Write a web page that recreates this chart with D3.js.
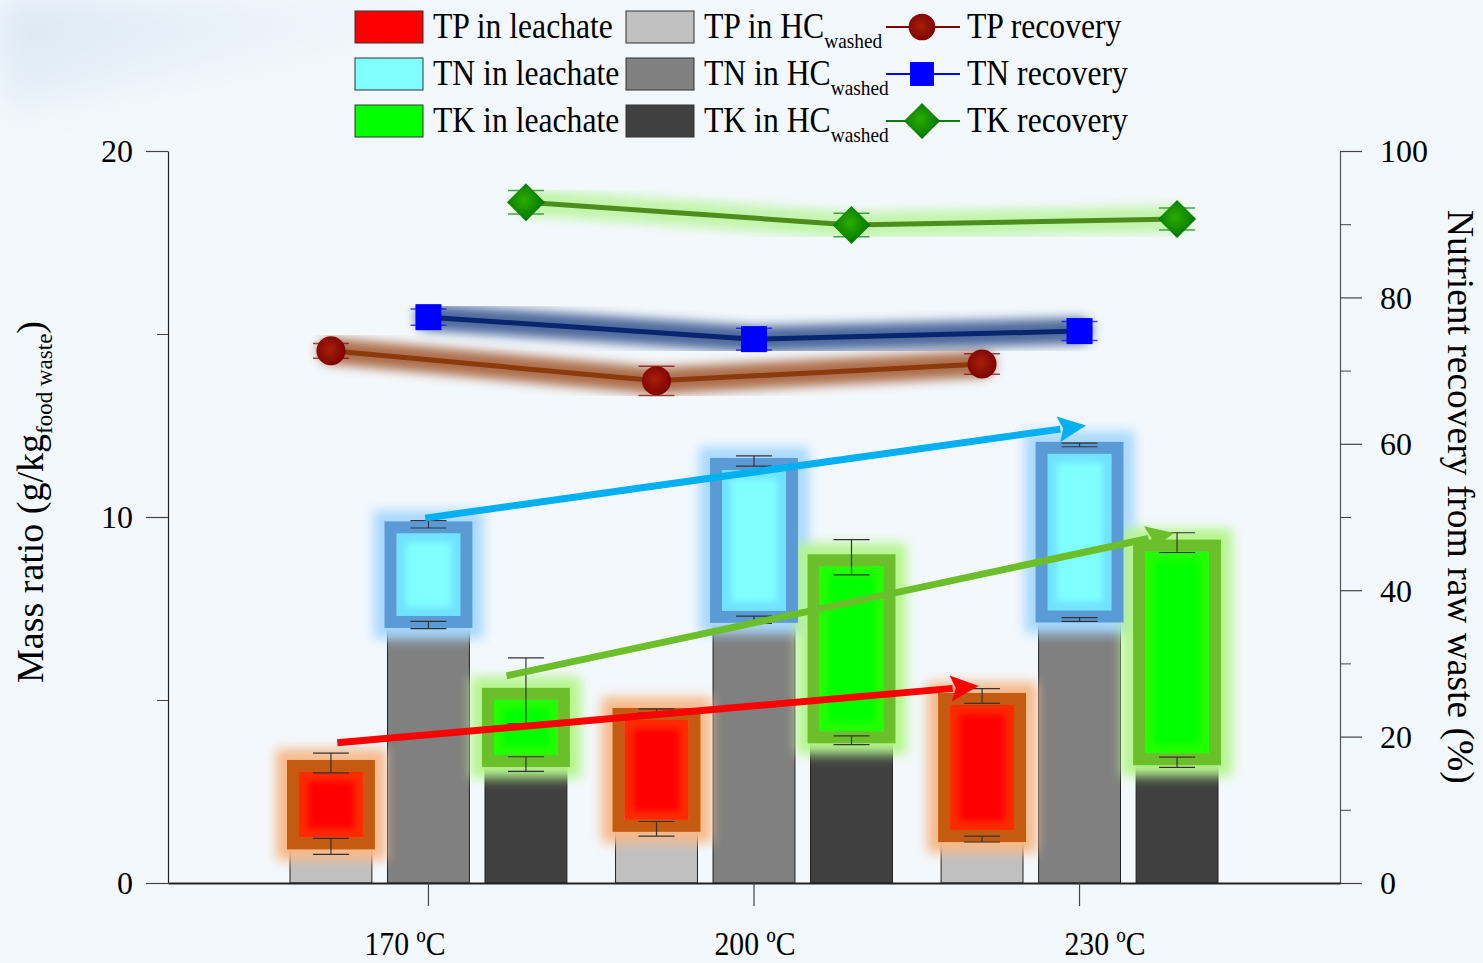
<!DOCTYPE html>
<html><head><meta charset="utf-8">
<script src="https://cdn.jsdelivr.net/npm/d3@7/dist/d3.min.js"></script>
<style>
body{margin:0;background:#f3f8fd}
svg{display:block}
text{font-family:"Liberation Serif","Times New Roman",serif;fill:#000}
</style>
</head><body>
<svg id="c" width="1483" height="963"></svg>
<script>
// ---------------- DATA ----------------
const categories = ["170 ºC", "200 ºC", "230 ºC"];
const nutrients = ["TP", "TN", "TK"];
// g/kg food waste : retained in washed hydrochar
const hcTP = [1.0, 1.48, 1.2];   const hcTPErr = [0.22, 0.2, 0.08];
const hcTN = [7.05, 7.19, 7.2];  const hcTNErr = [0.1, 0.1, 0.05];
const hcTK = [3.25, 3.9, 3.3];   const hcTKErr = [0.2, 0.12, 0.14];
// g/kg food waste : in leachate (stacked on top)
const leachTP = [2.28, 3.22, 3.91]; const totTPErr = [0.27, 0.06, 0.2];
const leachTN = [2.75, 4.34, 4.77]; const totTNErr = [0.1, 0.14, 0.05];
const leachTK = [2.0, 5.0, 6.0];    const totTKErr = [0.9, 0.48, 0.27];
// recovery (%)
const recTP = [72.7, 68.6, 70.9]; const recTPErr = [1.0, 2.0, 1.4];
const recTN = [77.3, 74.3, 75.4]; const recTNErr = [1.1, 1.5, 1.3];
const recTK = [93.0, 89.9, 90.7]; const recTKErr = [1.6, 1.6, 1.5];
// axes
const leftTicks = [0, 10, 20];  const leftMinor = [5, 15];
const rightTicks = [0, 20, 40, 60, 80, 100]; const rightMinor = [10, 30, 50, 70, 90];
// trend arrows (annotation): x in category-index units, y in g/kg
const arrowTP = {x: [-0.28, 1.69], y: [3.83, 5.38]};
const arrowTN = {x: [-0.01, 2.02], y: [9.97, 12.5]};
const arrowTK = {x: [0.24, 2.29],  y: [5.66, 9.56]};
// legend labels
const legLeach = ["TP in leachate", "TN in leachate", "TK in leachate"];
const legHC = ["TP in HC", "TN in HC", "TK in HC"];
const legRec = ["TP recovery", "TN recovery", "TK recovery"];

// ---------------- STYLE ----------------
const st = {
  TP: {hc:"#c0c0c0", core:"#ff0000", edge:"#ff2a00", box:"#c55a11", glow:"#f6b98a",
       mark:"#800000", line:"#8b3a0c", lglow:"#a0552c", arrow:"#ff0000"},
  TN: {hc:"#808080", core:"#80ffff", edge:"#70e2ff", box:"#5b9bd5", glow:"#a8d8ff",
       mark:"#0000ff", line:"#0a2570", lglow:"#2f4f8a", arrow:"#00b0f0"},
  TK: {hc:"#404040", core:"#00ff00", edge:"#22ff00", box:"#6abf2a", glow:"#b4f58c",
       mark:"#008000", line:"#4f8c1e", lglow:"#b7f59b", arrow:"#6abf2a"}
};
const HC = {TP:hcTP, TN:hcTN, TK:hcTK}, HCE = {TP:hcTPErr, TN:hcTNErr, TK:hcTKErr};
const LE = {TP:leachTP, TN:leachTN, TK:leachTK}, TE = {TP:totTPErr, TN:totTNErr, TK:totTKErr};
const REC = {TP:recTP, TN:recTN, TK:recTK}, RECE = {TP:recTPErr, TN:recTNErr, TK:recTKErr};
const ARR = {TP:arrowTP, TN:arrowTN, TK:arrowTK};

const L = 168, R = 1340, T = 151, B = 883;
const svg = d3.select("#c");
const defs = svg.append("defs");
function blur(id, sd){
  defs.append("filter").attr("id", id).attr("x","-50%").attr("y","-50%")
    .attr("width","200%").attr("height","200%")
    .append("feGaussianBlur").attr("stdDeviation", sd);
}
blur("b3", 3); blur("b6", 6); blur("b4", 5.5); blur("bg", 18);
function radial(id, c0, c1){
  const g = defs.append("radialGradient").attr("id", id).attr("cx","45%").attr("cy","45%").attr("r","60%");
  g.append("stop").attr("offset","0%").attr("stop-color", c0);
  g.append("stop").attr("offset","100%").attr("stop-color", c1);
}
radial("gTP", "#a8200a", "#7a0000");
radial("gTK", "#2aae00", "#006e00");
const lg = defs.append("linearGradient").attr("id","swoosh").attr("x1","0").attr("y1","0").attr("x2","1").attr("y2","0.4");
lg.append("stop").attr("offset","0").attr("stop-color","#d6e4f0");
lg.append("stop").attr("offset","1").attr("stop-color","#f3f8fd").attr("stop-opacity","0");

// background
svg.append("rect").attr("width",1483).attr("height",963).attr("fill","#f3f8fd");
svg.append("path").attr("d","M0,0 L600,0 C440,45 220,75 0,115 Z").attr("fill","url(#swoosh)").attr("filter","url(#bg)");

// ---------------- SCALES ----------------
const y = d3.scaleLinear().domain([0, 20]).range([B, T]);
const yR = d3.scaleLinear().domain([0, 100]).range([B, T]);
const x = d3.scaleBand().domain(categories).range([L, R]).paddingOuter(0.3).paddingInner(0);
const xs = d3.scaleBand().domain(nutrients).range([-146.25, 146.25]).paddingInner(0.16).paddingOuter(0.08);
const cx = c => x(c) + x.bandwidth() / 2;
const xi = d3.scaleLinear().domain([0, 2]).range([cx(categories[0]), cx(categories[2])]);
const xl = d3.scalePoint().domain(categories).range([405, 1105]);
const bw = xs.bandwidth();

const rows = [];
categories.forEach((c, i) => nutrients.forEach(n => {
  rows.push({c, i, n, hc: HC[n][i], hcE: HCE[n][i], le: LE[n][i], tot: HC[n][i] + LE[n][i],
             totE: TE[n][i], rec: REC[n][i], recE: RECE[n][i],
             bx: cx(c) + xs(n), mx: cx(c) + xs(n) + bw / 2});
}));

// ---------------- BARS ----------------
const gBars = svg.append("g");
gBars.selectAll(".hc").data(rows).join("rect")
  .attr("x", d => d.bx).attr("width", bw)
  .attr("y", d => y(d.hc)).attr("height", d => y(0) - y(d.hc))
  .attr("fill", d => st[d.n].hc).attr("stroke", "#222").attr("stroke-width", 1);
gBars.selectAll(".le").data(rows).join("rect")
  .attr("x", d => d.bx).attr("width", bw)
  .attr("y", d => y(d.tot)).attr("height", d => y(d.hc) - y(d.tot))
  .attr("fill", d => st[d.n].core).attr("stroke", "#222").attr("stroke-width", 1);

// highlight boxes around leachate segments
const e = 3;
const hl = svg.append("g");
const ob = d => ({x0: d.bx - e, x1: d.bx + bw + e, y0: y(d.tot) - e, y1: y(d.hc) + e});
hl.selectAll(".glow").data(rows).join("rect")
  .each(function(d){ const o = ob(d); d3.select(this).attr("x", o.x0).attr("y", o.y0).attr("width", o.x1 - o.x0).attr("height", o.y1 - o.y0); })
  .attr("fill", "none").attr("stroke", d => st[d.n].glow).attr("stroke-width", 22).attr("filter", "url(#b6)");
hl.selectAll(".edge").data(rows).join("rect")
  .each(function(d){ const o = ob(d); d3.select(this).attr("x", o.x0 + 12).attr("y", o.y0 + 12).attr("width", o.x1 - o.x0 - 24).attr("height", Math.max(0, o.y1 - o.y0 - 24)); })
  .attr("fill", d => st[d.n].edge);
hl.selectAll(".core").data(rows).join("rect")
  .each(function(d){ const o = ob(d); d3.select(this).attr("x", o.x0 + 21).attr("y", o.y0 + 21).attr("width", o.x1 - o.x0 - 42).attr("height", Math.max(0, o.y1 - o.y0 - 42)); })
  .attr("fill", d => st[d.n].core).attr("filter", "url(#b3)");
hl.selectAll(".box").data(rows).join("rect")
  .each(function(d){ const o = ob(d); d3.select(this).attr("x", o.x0 + 6).attr("y", o.y0 + 6).attr("width", o.x1 - o.x0 - 12).attr("height", o.y1 - o.y0 - 12); })
  .attr("fill", "none").attr("stroke", d => st[d.n].box).attr("stroke-width", 12);

// bar error bars
const eb = svg.append("g").attr("stroke", "#333").attr("stroke-width", 1.2).attr("fill", "none");
function errBar(g, xc, yv, ev, sc, w){
  g.append("line").attr("x1", xc).attr("x2", xc).attr("y1", sc(yv - ev)).attr("y2", sc(yv + ev));
  g.append("line").attr("x1", xc - w/2).attr("x2", xc + w/2).attr("y1", sc(yv - ev)).attr("y2", sc(yv - ev));
  g.append("line").attr("x1", xc - w/2).attr("x2", xc + w/2).attr("y1", sc(yv + ev)).attr("y2", sc(yv + ev));
}
rows.forEach(d => { errBar(eb, d.mx, d.hc, d.hcE, y, 36); errBar(eb, d.mx, d.tot, d.totE, y, 36); });

// ---------------- AXES ----------------
const axL = svg.append("g").attr("transform", `translate(${L},0)`)
  .call(d3.axisLeft(y).tickValues(leftTicks).tickSize(22).tickSizeOuter(0).tickPadding(13).tickFormat(d3.format("d")));
svg.append("g").attr("transform", `translate(${L},0)`)
  .call(d3.axisLeft(y).tickValues(leftMinor).tickSize(11).tickSizeOuter(0).tickFormat(""))
  .select(".domain").remove();
const axR = svg.append("g").attr("transform", `translate(${R},0)`)
  .call(d3.axisRight(yR).tickValues(rightTicks).tickSize(22).tickSizeOuter(0).tickPadding(18).tickFormat(d3.format("d")));
svg.append("g").attr("transform", `translate(${R},0)`)
  .call(d3.axisRight(yR).tickValues(rightMinor).tickSize(11).tickSizeOuter(0).tickFormat(""))
  .select(".domain").remove();
const axB = svg.append("g").attr("transform", `translate(0,${B})`)
  .call(d3.axisBottom(x).tickSize(23).tickSizeOuter(0).tickFormat(""));
[axL, axR].forEach(a => a.selectAll("text").attr("font-size", 32).attr("font-family", '"Liberation Serif",serif').attr("fill", "#000"));
axL.selectAll(".tick text").attr("dy", "0.34em");
axR.selectAll(".tick text").attr("dy", "0.34em");
axL.selectAll("path,line").attr("stroke", "#222").attr("stroke-width", 1.2);
axR.selectAll("path,line").attr("stroke", "#555").attr("stroke-width", 1.2);
svg.selectAll(".tick line").attr("stroke", "#444");
axB.select(".domain").attr("stroke", "#222").attr("stroke-width", 2);
axB.selectAll(".tick line").attr("stroke", "#444").attr("stroke-width", 1.2);

// category labels
svg.append("g").selectAll("text").data(categories).join("text")
  .attr("transform", d => `translate(${xl(d)},955) scale(0.9,1)`)
  .attr("text-anchor", "middle").attr("font-size", 33).text(d => d);

// axis titles
const tl = svg.append("text").attr("transform", "translate(43,683) rotate(-90)").attr("font-size", 38);
tl.append("tspan").text("Mass ratio (g/kg");
tl.append("tspan").attr("font-size", 23).attr("dy", 9).text("food waste");
tl.append("tspan").attr("dy", -9).text(")");
svg.append("text").attr("transform", "translate(1448,210) rotate(90)").attr("font-size", 37.5)
  .text("Nutrient recovery from raw waste (%)");

// ---------------- TREND ARROWS ----------------
const ga = svg.append("g");
nutrients.forEach(n => {
  const a = ARR[n];
  const x0 = xi(a.x[0]), y0 = y(a.y[0]), x1 = xi(a.x[1]), y1 = y(a.y[1]);
  const dx = x1 - x0, dy = y1 - y0, len = Math.hypot(dx, dy), ux = dx / len, uy = dy / len;
  const hlen = 28, hw = 13;
  const bxp = x1 - ux * hlen, byp = y1 - uy * hlen;
  ga.append("line").attr("x1", x0).attr("y1", y0).attr("x2", bxp + ux * 2).attr("y2", byp + uy * 2)
    .attr("stroke", st[n].arrow).attr("stroke-width", 7);
  ga.append("path").attr("d", `M${x1},${y1} L${bxp - uy * hw},${byp + ux * hw} L${bxp + ux * 5},${byp + uy * 5} L${bxp + uy * hw},${byp - ux * hw} Z`)
    .attr("fill", st[n].arrow);
});

// ---------------- RECOVERY LINES ----------------
const gr = svg.append("g");
const line = d3.line().x(d => d.mx).y(d => yR(d.rec));
nutrients.forEach(n => {
  const pts = rows.filter(d => d.n === n);
  gr.append("path").attr("d", line(pts)).attr("fill", "none").attr("stroke", st[n].lglow)
    .attr("stroke-width", 26).attr("stroke-linecap", "round").attr("opacity", 0.85).attr("filter", "url(#b4)");
});
nutrients.forEach(n => {
  const pts = rows.filter(d => d.n === n);
  gr.append("path").attr("d", line(pts)).attr("fill", "none").attr("stroke", st[n].line).attr("stroke-width", 5);
});
nutrients.forEach(n => {
  const g = gr.append("g").attr("stroke", st[n].mark).attr("stroke-width", 1.5).attr("opacity", 0.7);
  rows.filter(d => d.n === n).forEach(d => errBar(g, d.mx, d.rec, d.recE, yR, 36));
});
function marker(g, n, px, py, s){
  if (n === "TP") g.append("circle").attr("cx", px).attr("cy", py).attr("r", 14.5 * s).attr("fill", "url(#gTP)");
  else if (n === "TN") g.append("rect").attr("x", px - 13 * s).attr("y", py - 13 * s).attr("width", 26 * s).attr("height", 26 * s).attr("fill", "#0000ff");
  else g.append("path").attr("d", `M${px},${py - 19 * s} L${px + 19 * s},${py} L${px},${py + 19 * s} L${px - 19 * s},${py} Z`).attr("fill", "url(#gTK)");
}
rows.forEach(d => marker(gr, d.n, d.mx, yR(d.rec), 1));

// ---------------- LEGEND ----------------
const leg = svg.append("g");
nutrients.forEach((n, i) => {
  const cy = 27 + i * 47;
  leg.append("rect").attr("x", 355).attr("y", cy - 16).attr("width", 68).attr("height", 32)
    .attr("fill", st[n].core).attr("stroke", "#333").attr("stroke-width", 1);
  leg.append("text").attr("transform", `translate(433,${cy + 11}) scale(0.88,1)`).attr("font-size", 36).text(legLeach[i]);
  leg.append("rect").attr("x", 626).attr("y", cy - 16).attr("width", 68).attr("height", 32)
    .attr("fill", st[n].hc).attr("stroke", "#333").attr("stroke-width", 1);
  const t = leg.append("text").attr("transform", `translate(704,${cy + 11}) scale(0.88,1)`).attr("font-size", 36);
  t.append("tspan").text(legHC[i]);
  t.append("tspan").attr("font-size", 22).attr("dy", 10).text("washed");
  leg.append("line").attr("x1", 886).attr("x2", 960).attr("y1", cy).attr("y2", cy)
    .attr("stroke", st[n].mark).attr("stroke-width", 2);
  marker(leg, n, 922, cy, n === "TK" ? 0.95 : 0.92);
  leg.append("text").attr("transform", `translate(967,${cy + 11}) scale(0.88,1)`).attr("font-size", 36).text(legRec[i]);
});
</script>
</body></html>
